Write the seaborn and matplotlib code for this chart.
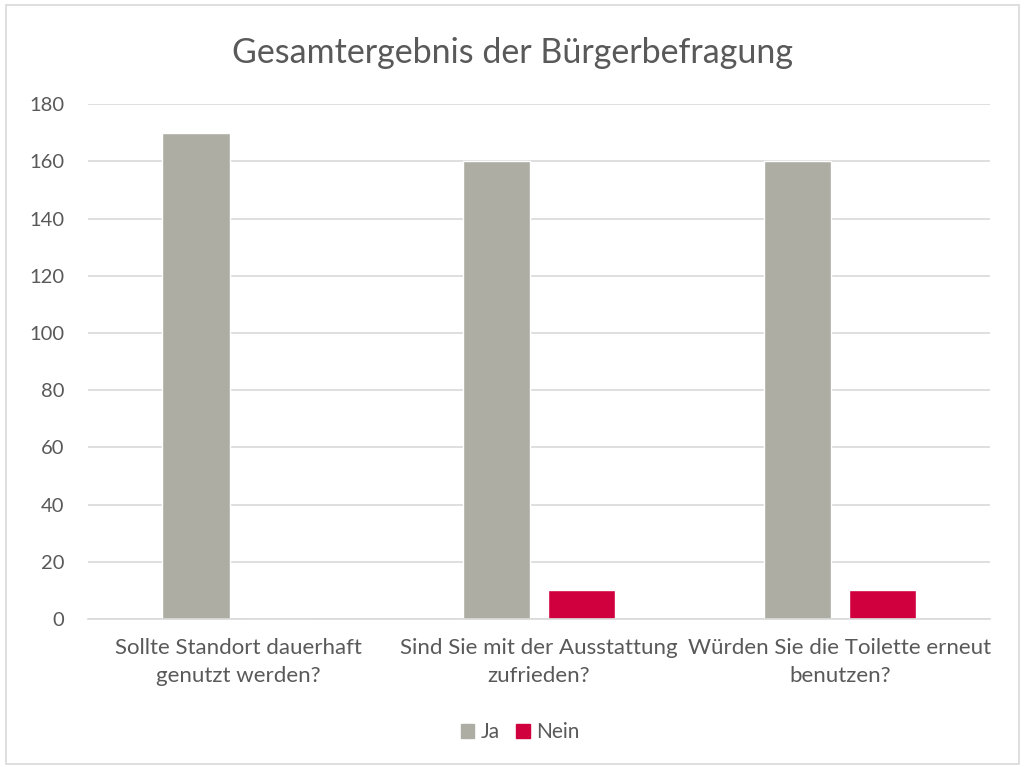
import matplotlib
matplotlib.use("Agg")
import matplotlib.pyplot as plt
import seaborn as sns
import pandas as pd
from matplotlib.patches import Rectangle

categories = ["Sollte Standort dauerhaft\ngenutzt werden?",
              "Sind Sie mit der Ausstattung\nzufrieden?",
              "Würden Sie die Toilette erneut\nbenutzen?"]
ja_values = [170, 160, 160]
nein_values = [0, 10, 10]
series = ["Ja", "Nein"]
colors = ["#ADADA3", "#D0003F"]
yticks = [0, 20, 40, 60, 80, 100, 120, 140, 160, 180]

df = pd.DataFrame({
    "Frage": categories * 2,
    "Serie": [series[0]] * 3 + [series[1]] * 3,
    "Wert": ja_values + nein_values,
})

sns.set_theme(style="white")
plt.rcParams['font.family'] = ['Lato', 'DejaVu Sans']
text_color = "#595959"

fig = plt.figure(figsize=(10.24, 7.67), dpi=100)
ax = fig.add_axes([0.086, 0.193, 0.881, 0.671])

sns.barplot(data=df, x="Frage", y="Wert", hue="Serie", palette=colors,
            width=0.565, gap=0.21, ax=ax, legend=False, saturation=1)

ax.set_ylim(0, 180)
ax.set_xlim(-0.5, 2.5)
ax.set_yticks(yticks)
ax.set_yticklabels([str(v) for v in yticks], fontsize=14.5, color=text_color)
ax.tick_params(axis="y", length=0, pad=17)
ax.tick_params(axis="x", length=0, pad=14)
for lbl in ax.get_xticklabels():
    lbl.set_fontsize(16)
    lbl.set_color(text_color)
    lbl.set_linespacing(1.5)
ax.set_xlabel("")
ax.set_ylabel("")
ax.yaxis.grid(True, color="#D9D9D9", linewidth=1.2)
ax.set_axisbelow(True)
for s in ["top", "right", "left"]:
    ax.spines[s].set_visible(False)
ax.spines["bottom"].set_color("#D9D9D9")
ax.spines["bottom"].set_linewidth(1.2)

fig.suptitle("Gesamtergebnis der Bürgerbefragung", fontsize=24.5, color=text_color,
             y=0.952)

handles = [Rectangle((0, 0), 1, 1, color=c) for c in colors]
fig.legend(handles, series, loc="center", bbox_to_anchor=(0.508, 0.045), ncol=2,
           frameon=False, fontsize=15, labelcolor=text_color,
           handlelength=0.65, handleheight=0.65, handletextpad=0.3,
           columnspacing=0.8)

fig.patches.append(Rectangle((0.006, 0.004), 0.989, 0.989, transform=fig.transFigure,
                             fill=False, edgecolor="#D9D9D9", linewidth=1.2))

fig.savefig("out.png", dpi=100, facecolor="white")
